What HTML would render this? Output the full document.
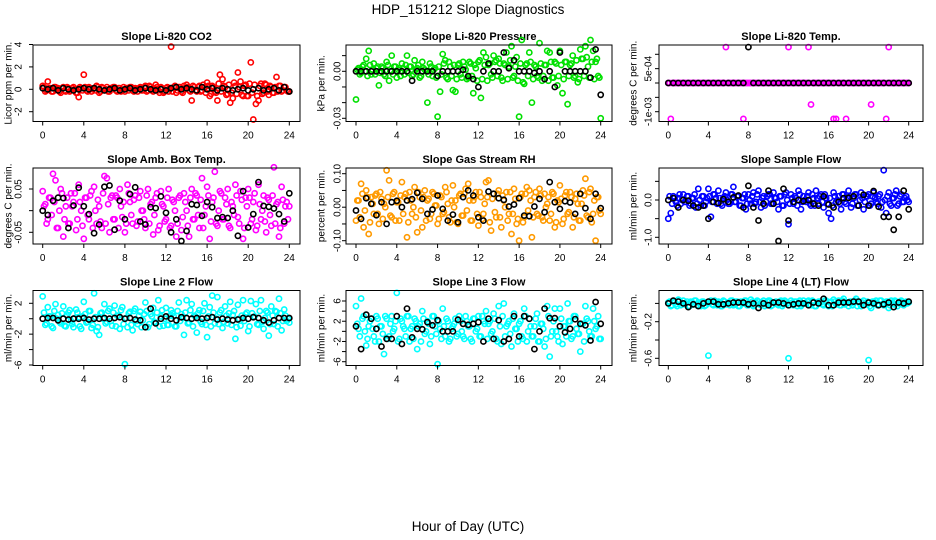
<!DOCTYPE html>
<html><head><meta charset="utf-8"><title>HDP_151212 Slope Diagnostics</title>
<style>
html,body{margin:0;padding:0;background:#fff;}
svg{display:block;font-family:"Liberation Sans",Arial,sans-serif;}
</style></head>
<body>
<svg id="chart" width="936" height="540" viewBox="0 0 936 540" xmlns="http://www.w3.org/2000/svg">
<text x="468" y="14" font-size="13.5" text-anchor="middle">HDP_151212  Slope Diagnostics</text>
<text x="468" y="531" font-size="13.5" text-anchor="middle">Hour of Day (UTC)</text>
</svg>
<script>
const hoursQ=[0,0.25,0.5,0.75,1,1.25,1.5,1.75,2,2.25,2.5,2.75,3,3.25,3.5,3.75,4,4.25,4.5,4.75,5,5.25,5.5,5.75,6,6.25,6.5,6.75,7,7.25,7.5,7.75,8,8.25,8.5,8.75,9,9.25,9.5,9.75,10,10.25,10.5,10.75,11,11.25,11.5,11.75,12,12.25,12.5,12.75,13,13.25,13.5,13.75,14,14.25,14.5,14.75,15,15.25,15.5,15.75,16,16.25,16.5,16.75,17,17.25,17.5,17.75,18,18.25,18.5,18.75,19,19.25,19.5,19.75,20,20.25,20.5,20.75,21,21.25,21.5,21.75,22,22.25,22.5,22.75,23,23.25,23.5,23.75,24];
const hoursB=[0.125,0.375,0.625,0.875,1.125,1.375,1.625,1.875,2.125,2.375,2.625,2.875,3.125,3.375,3.625,3.875,4.125,4.375,4.625,4.875,5.125,5.375,5.625,5.875,6.125,6.375,6.625,6.875,7.125,7.375,7.625,7.875,8.125,8.375,8.625,8.875,9.125,9.375,9.625,9.875,10.125,10.375,10.625,10.875,11.125,11.375,11.625,11.875,12.125,12.375,12.625,12.875,13.125,13.375,13.625,13.875,14.125,14.375,14.625,14.875,15.125,15.375,15.625,15.875,16.125,16.375,16.625,16.875,17.125,17.375,17.625,17.875,18.125,18.375,18.625,18.875,19.125,19.375,19.625,19.875,20.125,20.375,20.625,20.875,21.125,21.375,21.625,21.875,22.125,22.375,22.625,22.875,23.125,23.375,23.625,23.875];
const hoursH=[0,0.5,1,1.5,2,2.5,3,3.5,4,4.5,5,5.5,6,6.5,7,7.5,8,8.5,9,9.5,10,10.5,11,11.5,12,12.5,13,13.5,14,14.5,15,15.5,16,16.5,17,17.5,18,18.5,19,19.5,20,20.5,21,21.5,22,22.5,23,23.5,24];
const xTicks=[0,4,8,12,16,20,24];

const co2All=[0.3,-0.2,0.7,0.1,-0.2,0.2,0.1,-0.3,0.2,-0.2,0.1,-0.1,0.2,-0.3,-0.7,0.1,1.3,-0.1,0.2,-0.2,0.1,0.3,-0.3,0.2,-0.1,0.2,-0.2,0.1,0.2,-0.2,0.1,-0.1,-0.2,0.1,0.2,-0.1,0.1,-0.2,0.2,-0.1,0.3,-0.1,0.2,-0.2,0.4,-0.1,0.2,-0.3,0.1,-0.2,3.8,0.2,-0.3,0.2,-0.2,0.3,0.4,-0.1,-1.0,0.2,-0.2,0.3,-0.1,0.2,0.6,-0.6,0.3,-0.2,-1.0,1.3,0.9,0.2,-0.4,-1.2,-0.8,0.3,1.5,0.7,-0.6,0.4,-0.6,2.4,-2.7,-1.3,-1.0,0.5,-0.3,0.4,-0.5,0.2,-0.3,1.1,0.3,-0.2,0.2,-0.1,-0.2];
const co2Band=[0.2,-0.1,0.1,-0.2,0.2,0.0,-0.2,0.1,-0.1,0.2,-0.2,0.1,0.0,-0.3,0.2,-0.1,0.2,-0.2,0.1,0.0,-0.1,0.2,-0.2,0.1,0.0,-0.2,0.1,0.2,-0.1,0.1,-0.2,0.2,0.1,-0.1,0.2,-0.2,0.0,0.1,-0.1,0.2,-0.2,0.3,-0.1,0.1,0.2,-0.3,0.1,-0.2,0.2,0.1,-0.2,0.3,-0.1,0.2,-0.3,0.1,0.2,-0.2,0.3,-0.1,0.2,-0.2,0.4,-0.3,0.3,-0.4,0.2,-0.3,0.5,-0.2,0.3,-0.5,0.4,-0.3,0.6,-0.4,0.2,-0.5,0.3,-0.6,0.5,-0.3,0.4,-0.6,0.3,-0.4,0.5,-0.2,0.3,-0.3,0.2,-0.2,0.3,-0.1,0.2,-0.2];
const co2Sub=[0.1,0,0.1,-0.1,0.1,0,-0.1,0,0.1,0,0.1,0,-0.1,0,0.1,-0.1,0,0.1,-0.1,0,0.1,0,-0.1,0,-0.1,0.1,0.2,0,0.1,0,-0.1,0.2,0,0.1,-0.1,0.1,0,-0.1,0,0.1,-0.1,0,0.1,-0.1,0,0.1,-0.1,0.2,-0.2];

const presAll=[-0.018,0.002,-0.001,0.004,0.008,0.013,-0.002,0.005,0.002,-0.009,0.003,-0.002,0.006,-0.006,0.010,0.003,-0.004,0.002,0.005,-0.002,0.010,0.003,-0.003,0.007,0.002,-0.004,0.006,0.001,-0.020,0.005,-0.003,0.002,-0.029,-0.013,0.011,0.007,-0.005,0.003,-0.012,-0.013,0.004,-0.002,0.006,0.001,-0.004,0.005,-0.014,0.002,0.006,-0.017,0.012,0.009,0.004,-0.002,0.010,0.007,0.008,-0.004,0.005,0.012,0.003,0.016,-0.003,0.009,-0.029,0.020,-0.008,0.005,0.012,-0.020,0.004,-0.003,0.018,-0.006,0.004,0.013,0.012,-0.004,0.006,-0.009,0.013,-0.014,0.006,-0.021,0.004,0.010,-0.003,-0.007,0.014,0.008,0.016,0.003,0.020,0.013,0.006,-0.003,-0.030];
const presBand=[0.001,-0.002,0.003,0.0,-0.003,0.004,0.001,-0.002,0.003,-0.001,0.002,-0.003,0.004,0.0,-0.002,0.003,0.001,-0.003,0.002,0.004,-0.001,0.003,-0.002,0.001,0.004,-0.003,0.002,0.0,-0.002,0.003,0.001,-0.004,0.003,-0.002,0.005,-0.004,0.006,-0.003,0.004,-0.005,0.005,-0.004,0.003,-0.005,0.006,-0.003,0.004,-0.006,0.007,-0.005,0.004,-0.006,0.005,-0.004,0.006,-0.003,0.005,-0.006,0.004,-0.005,0.007,-0.004,0.003,-0.006,0.005,-0.007,0.004,-0.003,0.006,-0.005,0.003,-0.004,0.005,-0.003,0.004,-0.006,0.006,-0.004,0.005,-0.003,0.004,-0.005,0.006,-0.003,0.005,-0.004,0.007,-0.005,0.008,-0.003,0.009,-0.004,0.006,-0.005,0.008,-0.004];
const presSub=[0,0,0,0,0,0,0,0,0,0,0,-0.006,0,0,0,0,-0.003,0,0,0,0,0.001,-0.003,-0.005,-0.010,0,0.005,0,0,0.012,0.002,0.007,0,0,0,-0.001,0,-0.005,0,-0.010,0.012,0,0,0,0,0,-0.004,0.014,-0.015];

const tempAll=[0,-0.00125,0,0,0,0,0,0,0,0,0,0,0,0,0,0,0,0,0,0,0,0,0,0.00125,0,0,0,0,0,0,-0.00125,0,0,0,0,0,0,0,0,0,0,0,0,0,0,0,0,0,0.00125,0,0,0,0,0,0,0,0.00125,-0.00075,0,0,0,0,0,0,0,0,-0.00125,-0.00125,0,0,0,-0.00125,0,0,0,0,0,0,0,0,0,-0.00075,0,0,0,0,0,-0.00125,0.00125,0,0,0,0,0,0,0,0];
const tempBand=[0,0,0,0,0,0,0,0,0,0,0,0,0,0,0,0,0,0,0,0,0,0,0,0,0,0,0,0,0,0,0,0,0,0,0,0,0,0,0,0,0,0,0,0,0,0,0,0,0,0,0,0,0,0,0,0,0,0,0,0,0,0,0,0,0,0,0,0,0,0,0,0,0,0,0,0,0,0,0,0,0,0,0,0,0,0,0,0,0,0,0,0,0,0,0,0];
const tempSub=[0,0,0,0,0,0,0,0,0,0,0,0,0,0,0,0,0.00125,0,0,0,0,0,0,0,0,0,0,0,0,0,0,0,0,0,0,0,0,0,0,0,0,0,0,0,0,0,0,0,0];

const ambAll=[0.045,0.015,-0.02,0.03,0.085,0.07,-0.04,0.05,-0.06,0.01,-0.03,0.04,0.02,-0.045,0.06,0.0,-0.065,0.03,-0.02,0.045,0.055,-0.03,0.01,-0.04,0.08,0.075,-0.05,0.035,-0.02,0.03,0.05,-0.015,-0.05,0.06,0.02,-0.03,0.035,-0.025,0.045,0.0,-0.04,0.05,0.015,-0.055,0.03,-0.045,0.045,0.01,-0.02,0.05,-0.035,0.02,-0.06,0.03,-0.045,0.04,0.0,-0.06,0.05,-0.02,0.035,-0.04,0.075,-0.01,0.055,-0.065,0.02,0.09,-0.035,0.045,-0.02,0.03,0.05,-0.04,0.01,0.06,-0.015,0.045,-0.065,0.03,0.05,-0.03,0.02,-0.045,0.06,-0.02,0.035,-0.05,0.025,-0.035,0.1,0.015,-0.06,0.055,-0.03,0.02,0.01];
const ambBand=[0.01,-0.03,0.03,-0.01,0.02,-0.04,0.0,0.04,-0.02,0.03,-0.03,0.01,0.04,-0.02,0.02,-0.035,0.03,-0.01,0.035,-0.04,0.0,0.025,-0.025,0.04,-0.03,0.015,0.03,-0.02,0.035,-0.04,0.01,0.02,-0.03,0.04,-0.01,0.025,-0.035,0.03,0.0,-0.02,0.035,-0.03,0.02,-0.01,0.04,-0.035,0.015,-0.025,0.03,-0.04,0.025,0.0,-0.03,0.035,-0.015,0.02,-0.035,0.03,-0.02,0.04,-0.01,0.025,-0.04,0.01,0.035,-0.025,0.03,-0.03,0.0,0.04,-0.02,0.015,-0.035,0.02,-0.01,0.035,-0.03,0.025,-0.04,0.01,0.03,-0.02,0.04,-0.035,0.015,0.0,-0.025,0.03,-0.01,0.035,-0.03,0.02,-0.04,0.025,0.01,-0.02];
const ambSub=[0.0,-0.01,0.023,0.03,0.029,-0.04,0.012,0.053,0.01,-0.008,-0.052,-0.032,0.055,0.058,-0.044,0.023,-0.02,0.038,0.054,-0.025,-0.032,0.008,0.006,0.033,-0.005,-0.05,-0.02,-0.07,-0.047,0.015,0.013,-0.012,0.02,0.008,-0.017,-0.015,-0.017,0.0,-0.058,0.045,-0.039,-0.008,0.066,0.011,0.009,0.005,-0.008,-0.025,0.04];

const rhAll=[-0.04,0.02,0.07,-0.06,0.05,-0.08,0.03,-0.02,0.04,-0.05,0.025,0.01,0.11,0.08,-0.03,0.045,0.015,-0.04,0.075,0.03,-0.09,0.045,-0.02,0.06,-0.075,0.03,-0.06,0.05,0.02,-0.035,0.045,0.005,-0.05,0.035,-0.02,0.06,0.01,-0.045,0.065,0.02,-0.05,0.04,-0.025,0.055,0.07,-0.04,0.02,0.045,-0.055,0.03,-0.02,0.075,0.08,-0.07,0.04,-0.03,0.05,-0.06,0.02,0.045,-0.02,-0.08,0.055,-0.05,-0.1,0.04,-0.03,0.06,0.05,-0.09,0.03,-0.02,0.055,-0.03,0.04,0.01,-0.04,0.045,-0.06,0.02,0.065,-0.05,0.035,-0.02,0.045,-0.06,0.025,0.01,-0.04,0.05,0.085,-0.03,0.055,-0.02,-0.1,0.03,-0.02];
const rhBand=[0.02,-0.03,0.04,-0.01,0.03,-0.045,0.01,0.035,-0.02,0.045,-0.035,0.0,0.03,-0.025,0.04,-0.04,0.015,0.035,-0.02,0.04,-0.045,0.02,0.0,-0.03,0.045,-0.01,0.03,-0.04,0.025,-0.02,0.04,0.005,-0.035,0.03,-0.015,0.045,-0.03,0.02,0.0,-0.045,0.035,-0.025,0.04,-0.01,0.02,-0.04,0.03,-0.02,0.045,-0.035,0.01,0.03,-0.045,0.025,-0.015,0.04,-0.03,0.035,0.0,-0.04,0.045,-0.02,0.025,-0.035,0.03,-0.045,0.04,-0.01,0.02,-0.03,0.045,-0.025,0.035,-0.04,0.0,0.03,-0.02,0.04,-0.045,0.015,0.025,-0.035,0.045,-0.015,0.03,-0.03,0.04,-0.04,0.01,0.035,-0.025,0.045,-0.045,0.02,0.03,-0.01];
const rhSub=[-0.01,-0.035,0.027,0.01,-0.024,0.015,-0.05,0.015,0.019,0.0,0.02,0.024,0.043,0.025,-0.02,-0.007,0.035,-0.005,-0.04,-0.022,-0.045,0.03,0.05,0.035,-0.03,-0.04,0.047,0.04,0.027,0.022,0.002,0.008,0.027,-0.025,-0.027,0.002,0.025,-0.015,0.075,0.015,-0.005,0.018,0.014,-0.02,0.04,-0.003,-0.035,0.04,-0.003];

const sampAll=[-0.5,-0.35,0.1,-0.05,0.05,-0.1,0.15,-0.05,0.1,-0.1,0.05,-0.2,0.3,-0.15,0.1,-0.05,0.3,-0.45,0.15,0.05,0.25,-0.1,0.05,0.2,-0.1,0.15,0.35,-0.05,0.1,-0.15,0.05,-0.25,0.15,-0.1,0.2,-0.05,0.25,-0.2,0.1,-0.05,0.15,-0.1,0.2,0.05,-0.25,0.1,-0.15,0.2,-0.65,0.15,-0.1,0.05,0.25,-0.25,0.1,-0.05,0.2,-0.15,0.05,0.25,-0.1,0.15,-0.2,0.05,-0.35,-0.5,0.2,-0.05,0.1,-0.25,0.15,-0.1,0.25,-0.2,0.05,0.15,-0.15,0.2,-0.25,0.1,0.15,-0.1,0.2,-0.05,0.1,-0.2,0.8,-0.35,0.2,-0.15,0.05,0.25,-0.1,0.15,-0.05,0.1,-0.05];
const sampBand=[0.1,-0.1,0.05,-0.15,0.15,0.0,-0.05,0.1,-0.15,0.05,0.15,-0.1,0.0,0.1,-0.15,0.05,0.1,-0.05,0.15,-0.1,0.05,-0.15,0.1,0.0,-0.1,0.15,-0.05,0.1,-0.15,0.05,0.15,-0.1,0.0,0.1,-0.1,0.15,-0.05,0.05,-0.15,0.1,0.15,-0.1,0.05,-0.05,0.1,-0.15,0.15,0.0,-0.1,0.05,0.1,-0.15,0.15,-0.05,0.0,0.1,-0.1,0.15,-0.15,0.05,0.1,-0.05,0.15,-0.1,0.05,-0.15,0.1,0.0,-0.1,0.15,-0.05,0.05,0.1,-0.1,0.15,-0.15,0.0,0.05,-0.05,0.1,-0.15,0.1,0.05,-0.1,0.15,-0.05,0.0,0.1,-0.1,0.05,0.15,-0.15,0.1,-0.05,0.05,0.0];
const sampSub=[0.0,0.05,-0.2,0.0,-0.02,-0.15,-0.2,-0.15,-0.5,-0.05,-0.08,0.02,-0.05,0.07,0.12,-0.2,0.38,-0.2,-0.55,-0.1,0.25,-0.1,-1.1,0.3,-0.55,-0.05,0.0,-0.03,0.0,-0.1,-0.15,0.1,-0.12,-0.2,-0.05,0.05,0.06,0.1,-0.15,0.14,-0.15,0.24,-0.18,-0.45,-0.45,-0.8,-0.45,0.25,-0.25];

const l2All=[2.9,-0.8,1.5,0.3,-1.2,1.9,0.5,-0.6,1.6,-1.0,0.8,-0.3,-1.1,1.2,0.2,-1.3,2.2,-0.5,1.0,-1.2,3.3,-1.6,-2.1,0.8,1.9,-0.4,1.3,-0.9,1.7,0.4,-1.3,1.5,-5.9,-1.1,0.9,-1.5,1.3,-0.7,0.9,-0.2,2.1,-1.1,0.6,1.4,-0.5,2.4,0.3,-0.9,1.4,-0.8,1.1,0.3,-1.0,2.1,0.6,-2.1,2.4,-0.5,1.9,0.4,-1.8,1.1,-0.7,2.0,-2.4,1.5,3.0,-0.6,2.8,0.8,-1.2,1.6,-0.6,2.2,0.5,-2.6,1.8,-0.9,2.4,0.6,-1.6,2.3,0.2,1.9,-0.8,2.4,-1.3,1.0,-2.2,1.6,-0.7,0.9,2.6,-1.5,1.2,-0.3,-0.5];
const l2Band=[0.8,-0.6,0.3,-1.0,1.0,0.0,-0.4,0.7,-0.9,0.4,1.1,-0.7,0.1,0.8,-1.0,0.3,0.6,-0.4,1.0,-0.8,0.2,-1.1,0.7,0.0,-0.6,1.0,-0.3,0.8,-1.0,0.4,1.1,-0.7,0.1,0.7,-0.8,1.0,-0.3,0.4,-1.1,0.6,1.0,-0.7,0.3,-0.4,0.8,-1.0,1.1,0.0,-0.8,0.4,0.7,-1.0,1.0,-0.3,0.1,0.8,-0.6,1.1,-1.0,0.3,0.7,-0.4,1.0,-0.8,0.3,-1.0,0.8,0.0,-0.7,1.1,-0.4,0.4,0.7,-0.8,1.0,-1.1,0.0,0.4,-0.3,0.8,-1.0,0.7,0.3,-0.7,1.0,-0.4,0.1,0.8,-0.7,0.4,1.0,-1.0,0.7,-0.3,0.4,0.0];
const l2Sub=[0,0.1,0.1,-0.2,0,-0.1,0,0,0.1,-0.1,0,0,0.1,0,0.1,0.2,0,0.1,-0.1,-0.2,-1.1,1.3,-0.6,0,0.3,0,-0.2,0.2,0.1,0,0.1,0,0.1,0.2,-0.1,0,-0.1,-0.2,-0.1,0.1,0,0.2,0.1,-0.2,-0.5,-0.2,0.1,0.1,0.1];

const l3All=[5,0.5,6.5,3,-2.8,1,2.5,-1,3,-2,1,-4.5,2.5,-1,3,0.5,7.6,-1.5,2,0.5,3,-2,1,2.5,-3.5,1.5,4,-0.5,2,-2.5,3,1,-6.5,0.5,4.5,-1,2,-1.5,1,2.5,-0.5,2,-1,3,1,-1.5,2.5,0,3,-1,2,4,1.5,-0.5,3.5,-1.5,5,-2.5,5.5,1,2,-3,3.5,0.5,1.5,-1,4.5,-2,2.5,-1,1,3.5,-2,1.5,-3,5,-5,0,4.5,-1,4.5,-2.5,1,5.5,2,-1,3,-0.5,-4,1.5,5,2,-1,4.5,0.5,3,-1.5];
const l3Band=[1.5,-1.0,2.5,0.0,-1.5,2.0,0.5,-2.0,2.5,1.0,-0.5,3.0,-1.5,1.5,0.0,2.0,-2.0,2.5,1.0,-1.0,3.0,0.5,-1.5,2.0,1.0,-2.0,2.5,0.0,1.5,-1.0,3.0,-0.5,2.0,-1.5,1.0,2.5,-2.0,0.5,1.5,-1.0,3.0,0.0,-1.5,2.0,1.0,-2.0,2.5,0.5,-1.0,3.0,1.5,-1.5,2.0,0.0,2.5,-2.0,1.0,3.0,-1.0,1.5,-0.5,2.5,0.5,-2.0,2.0,-1.5,3.0,0.0,1.0,-1.0,2.5,-2.0,1.5,0.5,-1.5,3.0,-1.0,2.0,0.0,-2.0,2.5,1.0,-1.0,2.0,-1.5,3.0,0.5,-0.5,1.5,-2.0,2.5,0.0,-1.0,2.0,1.0,-1.5];
const l3Sub=[1,-3.5,3.3,2.5,0.5,-3,-1.5,-1.5,3,-2.5,4.5,-1.2,0.5,0.4,1.8,1.2,2.2,0,0,0,2.3,1.5,1.3,1.5,1.8,-2,2.5,-1.5,2.2,-2,-1.5,3,-1,3,2.5,-3.5,0,4.5,2.6,2.6,1,-0.2,0.5,2.4,1.5,1.2,-1.8,5.8,1.5];

const l4All=[0.01,-0.03,0.02,-0.01,0.04,-0.02,0.03,0.0,-0.03,0.02,-0.01,0.03,0.01,-0.03,0.02,-0.02,-0.57,0.03,-0.02,0.01,0.02,-0.03,0.03,-0.01,0.01,0.03,-0.02,0.02,-0.03,0.02,0.0,0.03,-0.02,0.04,-0.03,0.01,0.02,-0.02,0.03,-0.01,0.03,-0.03,0.01,0.02,-0.02,0.03,-0.01,0.02,-0.6,0.03,-0.02,0.02,0.01,-0.03,0.03,0.0,0.03,-0.02,0.02,-0.03,0.02,0.01,-0.02,0.03,-0.03,0.02,0.04,-0.01,0.03,-0.02,0.05,0.01,-0.03,0.02,0.0,0.05,0.02,-0.03,0.03,-0.01,-0.62,-0.05,0.02,0.03,-0.01,0.03,-0.02,0.02,-0.05,0.03,-0.01,0.02,0.0,0.03,-0.02,0.02,0.01];
const l4Band=[0.02,-0.02,0.01,-0.03,0.03,0.0,-0.01,0.02,-0.03,0.01,0.03,-0.02,0.0,0.02,-0.03,0.01,0.02,-0.01,0.03,-0.02,0.01,-0.03,0.02,0.0,-0.02,0.03,-0.01,0.02,-0.03,0.01,0.03,-0.02,0.0,0.02,-0.02,0.03,-0.01,0.01,-0.03,0.02,0.03,-0.02,0.01,-0.01,0.02,-0.03,0.03,0.0,-0.02,0.01,0.02,-0.03,0.03,-0.01,0.0,0.02,-0.02,0.03,-0.03,0.01,0.02,-0.01,0.03,-0.02,0.01,-0.03,0.02,0.0,-0.02,0.03,-0.01,0.01,0.02,-0.02,0.03,-0.03,0.0,0.01,-0.01,0.02,-0.03,0.02,0.01,-0.02,0.03,-0.01,0.0,0.02,-0.02,0.01,0.03,-0.03,0.02,-0.01,0.01,0.0];
const l4Sub=[0.0,0.03,0.02,0.0,-0.04,-0.01,-0.03,0.0,0.02,0.02,-0.01,-0.01,0.0,0.01,0.01,0.01,-0.01,0.0,-0.05,0.0,-0.02,0.01,0.01,0.0,-0.02,-0.01,0.0,0.0,-0.02,0.01,0.0,0.05,-0.02,-0.02,0.01,0.01,0.01,0.02,0.02,-0.02,0.01,0.0,-0.02,-0.01,0.01,-0.04,0.01,0.0,0.02];

const NS='http://www.w3.org/2000/svg';
const svg=document.getElementById('chart');
function el(tag,attrs,parent){const e=document.createElementNS(NS,tag);for(const k in attrs)e.setAttribute(k,attrs[k]);(parent||svg).appendChild(e);return e;}

const cols=[{l:33,r:300,x0:42.7,x24:289.3,ylab:18,ytitle:8},{l:346,r:612,x0:356,x24:600.7,ylab:337,ytitle:321},{l:659,r:923,x0:668.3,x24:908.7,ylab:648,ytitle:633}];
const rows=[{t:45,b:121.5},{t:168,b:244},{t:290.5,b:365.5}];

const panels=[
 {name:'co2',title:'Slope Li-820 CO2',ytitle:'Licor ppm per min.',c:0,r:0,color:'#ff0000',all:co2All,band:co2Band,sub:co2Sub,cal:[0,89.3,-2,111.7],ticks:[4,2,0,-2],labels:['4','2','0','-2']},
 {name:'pressure',title:'Slope Li-820 Pressure',ytitle:'kPa per min.',c:1,r:0,color:'#00e000',all:presAll,band:presBand,sub:presSub,cal:[0,71.3,-0.03,118.3],ticks:[0.01,0,-0.01,-0.02,-0.03],labels:['','0.00','','','-0.03']},
 {name:'li820-temp',title:'Slope Li-820 Temp.',ytitle:'degrees C per min.',c:2,r:0,color:'#ff00ff',all:tempAll,band:tempBand,sub:tempSub,cal:[0,83,0.001,54.3],ticks:[0.001,0.0005,0,-0.0005,-0.001],labels:['','5e-04','','','-1e-03']},
 {name:'amb-box-temp',title:'Slope Amb. Box Temp.',ytitle:'degrees C per min.',c:0,r:1,color:'#ff00ff',all:ambAll,band:ambBand,sub:ambSub,cal:[0.05,189,-0.05,232.3],ticks:[0.05,0,-0.05],labels:['0.05','','-0.05']},
 {name:'gas-stream-rh',title:'Slope Gas Stream RH',ytitle:'percent per min.',c:1,r:1,color:'#ff9a00',all:rhAll,band:rhBand,sub:rhSub,cal:[0.1,173.7,-0.1,240.7],ticks:[0.1,0.05,0,-0.05,-0.1],labels:['0.10','','0.00','','-0.10']},
 {name:'sample-flow',title:'Slope Sample Flow',ytitle:'ml/min per min.',c:2,r:1,color:'#0000ff',all:sampAll,band:sampBand,sub:sampSub,cal:[0,200,-1,237.3],ticks:[0.5,0,-0.5,-1],labels:['','0.0','','-1.0']},
 {name:'line2-flow',title:'Slope Line 2 Flow',ytitle:'ml/min per min.',c:0,r:2,color:'#00ffff',all:l2All,band:l2Band,sub:l2Sub,cal:[2,303.3,-6,365],ticks:[2,0,-2,-4,-6],labels:['2','','-2','','-6']},
 {name:'line3-flow',title:'Slope Line 3 Flow',ytitle:'ml/min per min.',c:1,r:2,color:'#00ffff',all:l3All,band:l3Band,sub:l3Sub,cal:[6,301,-6,361.7],ticks:[6,4,2,0,-2,-4,-6],labels:['6','','2','','-2','','-6']},
 {name:'line4-flow',title:'Slope Line 4 (LT) Flow',ytitle:'ml/min per min.',c:2,r:2,color:'#00ffff',all:l4All,band:l4Band,sub:l4Sub,cal:[-0.2,321.7,-0.6,358.3],ticks:[0,-0.2,-0.4,-0.6],labels:['','-0.2','','-0.6']}
];

panels.forEach(p=>{
 const C=cols[p.c],R=rows[p.r];
 const xs=h=>C.x0+(C.x24-C.x0)*h/24;
 const ys=v=>p.cal[1]+(v-p.cal[0])*(p.cal[3]-p.cal[1])/(p.cal[2]-p.cal[0]);
 const g=el('g',{});
 
 
 const t=el('text',{x:(C.l+C.r)/2,y:R.t-5,'font-size':'11','font-weight':'bold','text-anchor':'middle'},g);
 t.textContent=p.title;
 
 
 const pts=el('g',{fill:'none','stroke-width':'1.6'},g);
 
 
 const nb=Math.min(hoursB.length,p.band.length);
 for(let i=0;i<nb;i++){
  const c=el('circle',{cx:xs(hoursB[i]).toFixed(1),cy:ys(p.band[i]).toFixed(1),r:'2.6',stroke:p.color},pts);
  
  
 }
 const n1=Math.min(hoursQ.length,p.all.length);
 for(let i=0;i<n1;i++){
  const c=el('circle',{cx:xs(hoursQ[i]).toFixed(1),cy:ys(p.all[i]).toFixed(1),r:'2.6',stroke:p.color},pts);
  
  
 }
 const n2=Math.min(hoursH.length,p.sub.length);
 for(let i=0;i<n2;i++){
  const c=el('circle',{cx:xs(hoursH[i]).toFixed(1),cy:ys(p.sub[i]).toFixed(1),r:'2.6',stroke:'#000'},pts);
  
  
 }
 const box=el('rect',{x:C.l,y:R.t,width:C.r-C.l,height:R.b-R.t,fill:'none',stroke:'#000','stroke-width':'1'},g);
 
 
 const xa=el('g',{},g);
 
 
 xTicks.forEach(h=>{
  const x=xs(h);
  el('line',{x1:x,x2:x,y1:R.b,y2:R.b+4,stroke:'#000'},xa);
  const tl=el('text',{x:x,y:R.b+17,'font-size':'10','text-anchor':'middle'},xa);
  tl.textContent=String(h);
  
  
 });
 const ya=el('g',{},g);
 
 
 p.ticks.forEach((v,i)=>{
  const y=ys(v);
  el('line',{x1:C.l-4,x2:C.l,y1:y,y2:y,stroke:'#000'},ya);
  if(p.labels[i]){
   const tl=el('text',{x:C.ylab,y:y,dy:'3.5','font-size':'10','text-anchor':'middle',transform:`rotate(-90 ${C.ylab} ${y})`},ya);
   tl.textContent=p.labels[i];
   
   
  }
 });
 const ymid=(R.t+R.b)/2;
 const yt=el('text',{x:C.ytitle,y:ymid,dy:'3.5','font-size':'10','text-anchor':'middle',transform:`rotate(-90 ${C.ytitle} ${ymid})`},g);
 yt.textContent=p.ytitle;
 
 
});
</script>
</body></html>
